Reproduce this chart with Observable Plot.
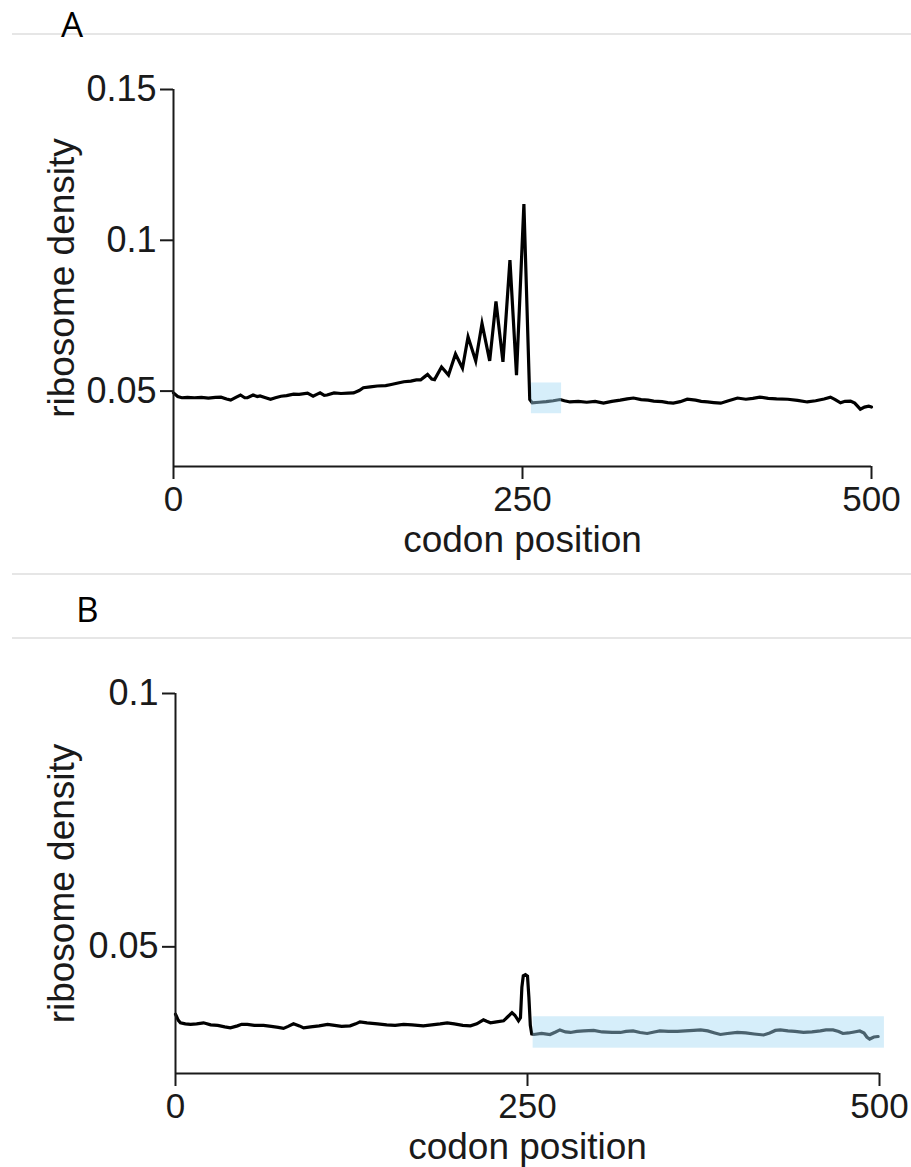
<!DOCTYPE html>
<html><head><meta charset="utf-8">
<script src="https://cdn.jsdelivr.net/npm/d3@7"></script>
<script src="https://cdn.jsdelivr.net/npm/@observablehq/plot@0.6"></script>
<style>
body{margin:0;background:#fff;}
#page{position:relative;width:911px;height:1167px;overflow:hidden;font-family:"Liberation Sans",Arial,sans-serif;}
.hr{position:absolute;left:12px;right:0;height:2px;background:#e6e6e6;}
.panel{position:absolute;font-family:"Open Sans",sans-serif;font-size:35px;color:#000;line-height:1;}
.chart{position:absolute;left:0;}
</style></head><body>
<div id="page">
 <div class="hr" style="top:33px"></div>
 <div class="panel" style="left:61px;top:6px">A</div>
 <div class="chart" id="chartA" style="top:40px"></div>
 <div class="hr" style="top:573px"></div>
 <div class="panel" style="left:76px;top:591px">B</div>
 <div class="hr" style="top:637px"></div>
 <div class="chart" id="chartB" style="top:640px"></div>
</div>
<script>
// ---------- data ----------
const xLabel = "codon position";
const yLabel = "ribosome density";
const xTicks = [0, 250, 500];
const yTicksA = [0.05, 0.1, 0.15];
const yTicksB = [0.05, 0.1];
const xDomain = [0, 500];
const yDomainA = [0.025, 0.15];
const yDomainB = [0.025, 0.1];

// Panel A: codon position and ribosome density
const posA = [0,3,6,10,15,20,25,30,34,38,41,45,48,51,53,57,60,62,66,69.5,73,77,81,86,90,96,100,103,105,108,110,115,120,125,129,133,136,141,146,152,156,160,165,170,174,177,180,182,185,187,192,197,202,207,211,216.5,221,226.5,231,236,241,245.7,251,255.2,257,262,267,272,277,280,284,290,296,302,308,314,320,325,329.5,335,340,344,350,354,358,363,368,374,378,382.5,387,392,397,404,410,415,420,426,432,440,447,454,460,466,470.6,474,477.8,481,485,488,492,495,498,500];
const densA = [0.0494,0.0482,0.0478,0.0479,0.0478,0.0479,0.0477,0.0479,0.0480,0.0474,0.0470,0.0480,0.0487,0.0478,0.0478,0.0487,0.0482,0.0484,0.0478,0.0473,0.0478,0.0483,0.0485,0.0490,0.0489,0.0493,0.0483,0.0490,0.0494,0.0486,0.0487,0.0494,0.0492,0.0493,0.0494,0.0502,0.0511,0.0514,0.0517,0.0518,0.0522,0.0526,0.0531,0.0533,0.0537,0.0537,0.0548,0.0555,0.0540,0.0538,0.0580,0.0553,0.0623,0.0576,0.0680,0.0600,0.0724,0.0600,0.0797,0.0597,0.0934,0.0553,0.1120,0.0472,0.0461,0.0463,0.0465,0.0468,0.0472,0.0468,0.0464,0.0466,0.0463,0.0466,0.0460,0.0466,0.0470,0.0474,0.0477,0.0472,0.0470,0.0467,0.0465,0.0462,0.0460,0.0465,0.0473,0.0470,0.0466,0.0464,0.0462,0.0460,0.0467,0.0477,0.0473,0.0476,0.0480,0.0476,0.0474,0.0473,0.0469,0.0464,0.0468,0.0474,0.0480,0.0472,0.0461,0.0466,0.0467,0.0460,0.0440,0.0447,0.0450,0.0447];
// highlighted region A: [codon start, codon end, density low, density high]
const boxA = [256.4, 278, 0.0425, 0.0527];

// Panel B
const posB = [0,2,3.5,7,10.7,15,19.9,25,30,35,39,44,47,51,56,62.5,68,73,76.7,80,83.8,88,91,96,102,108,113,118,124,128,131,136,143.5,150,156,162,168,176,182,188,193,198,204,209.5,214,218.7,221,223.7,228,233,236,239,241,243.6,245,246,247,248.5,250,251,252,253,254.5,260,266,270,273,277,280.5,285,290,297,303,310,316,320,325,330,335,340,344,350,356.5,362,368,373,378,383,387,392,399,405,411,417.7,422,426,429.6,435,440,446,452,458,462,467,471,474,478,482,486,489,491,493,496,499];
const densB = [0.0367,0.0355,0.0350,0.0348,0.0347,0.0348,0.0350,0.0346,0.0345,0.0342,0.0340,0.0344,0.0347,0.0347,0.0345,0.0345,0.0343,0.0341,0.0339,0.0343,0.0348,0.0344,0.0340,0.0342,0.0344,0.0347,0.0345,0.0343,0.0344,0.0348,0.0352,0.0350,0.0348,0.0346,0.0345,0.0347,0.0346,0.0344,0.0346,0.0348,0.0350,0.0348,0.0345,0.0344,0.0348,0.0356,0.0353,0.0350,0.0352,0.0354,0.0362,0.0370,0.0365,0.0354,0.0360,0.0420,0.0443,0.0445,0.0442,0.0400,0.0345,0.0328,0.0327,0.0329,0.0327,0.0332,0.0336,0.0332,0.0331,0.0333,0.0334,0.0335,0.0332,0.0331,0.0331,0.0333,0.0334,0.0331,0.0329,0.0332,0.0334,0.0333,0.0333,0.0334,0.0335,0.0336,0.0334,0.0330,0.0327,0.0329,0.0331,0.0330,0.0328,0.0326,0.0330,0.0335,0.0336,0.0334,0.0333,0.0331,0.0332,0.0334,0.0336,0.0336,0.0333,0.0329,0.0330,0.0332,0.0334,0.0330,0.0322,0.0318,0.0322,0.0323];
const boxB = [254, 503.5, 0.0300, 0.0362];

// ---------- drawing ----------
function panel({pos, dens, box, yDomain, yTicks, height, mt, mb, ml, mr, labelDx, labelDy}) {
  const data = pos.map((p, i) => ({codon: p, density: dens[i]}));
  const rect = [{x1: box[0], x2: box[1], y1: box[2], y2: box[3]}];
  return Plot.plot({
    width: 911, height,
    marginTop: mt, marginBottom: mb, marginLeft: ml, marginRight: mr,
    style: {fontFamily: '"Liberation Sans", Arial, sans-serif', fontSize: "35px", background: "transparent", color: "#1a1a1a", overflow: "visible"},
    x: {domain: xDomain},
    y: {domain: yDomain},
    marks: [
      Plot.line(data, {x: "codon", y: "density", stroke: "#000", strokeWidth: 3.2, strokeLinejoin: "miter", strokeMiterlimit: 6, curve: "linear"}),
      Plot.rect(rect, {x1: "x1", x2: "x2", y1: "y1", y2: "y2", fill: "#a4daf4", fillOpacity: 0.45}),
      Plot.ruleX([xDomain[0]], {stroke: "#1a1a1a", strokeWidth: 2}),
      Plot.ruleY([yDomain[0]], {stroke: "#1a1a1a", strokeWidth: 2}),
      Plot.axisY({ticks: yTicks, tickSize: 13, tickPadding: 4, strokeWidth: 2, label: null, fontSize: 36, tickFormat: d => String(d)}),
      Plot.axisX({ticks: xTicks, tickSize: 13, tickPadding: 7, strokeWidth: 2, label: null, fontSize: 35, tickFormat: d => String(d)}),
      Plot.text([xLabel], {frameAnchor: "bottom", dy: labelDy, fontSize: 37, lineAnchor: "middle", textAnchor: "middle", fill: "#1a1a1a"}),
      Plot.text([yLabel], {frameAnchor: "left", rotate: -90, dx: labelDx, fontSize: 37, lineAnchor: "middle", textAnchor: "middle", fill: "#1a1a1a"})
    ]
  });
}

document.getElementById("chartA").append(panel({
  pos: posA, dens: densA, box: boxA, yDomain: yDomainA, yTicks: yTicksA,
  height: 530, mt: 49, mb: 104, ml: 173, mr: 40, labelDx: -111, labelDy: 74
}));
document.getElementById("chartB").append(panel({
  pos: posB, dens: densB, box: boxB, yDomain: yDomainB, yTicks: yTicksB,
  height: 527, mt: 53, mb: 94, ml: 175, mr: 32, labelDx: -113, labelDy: 74
}));
</script>
</body></html>
